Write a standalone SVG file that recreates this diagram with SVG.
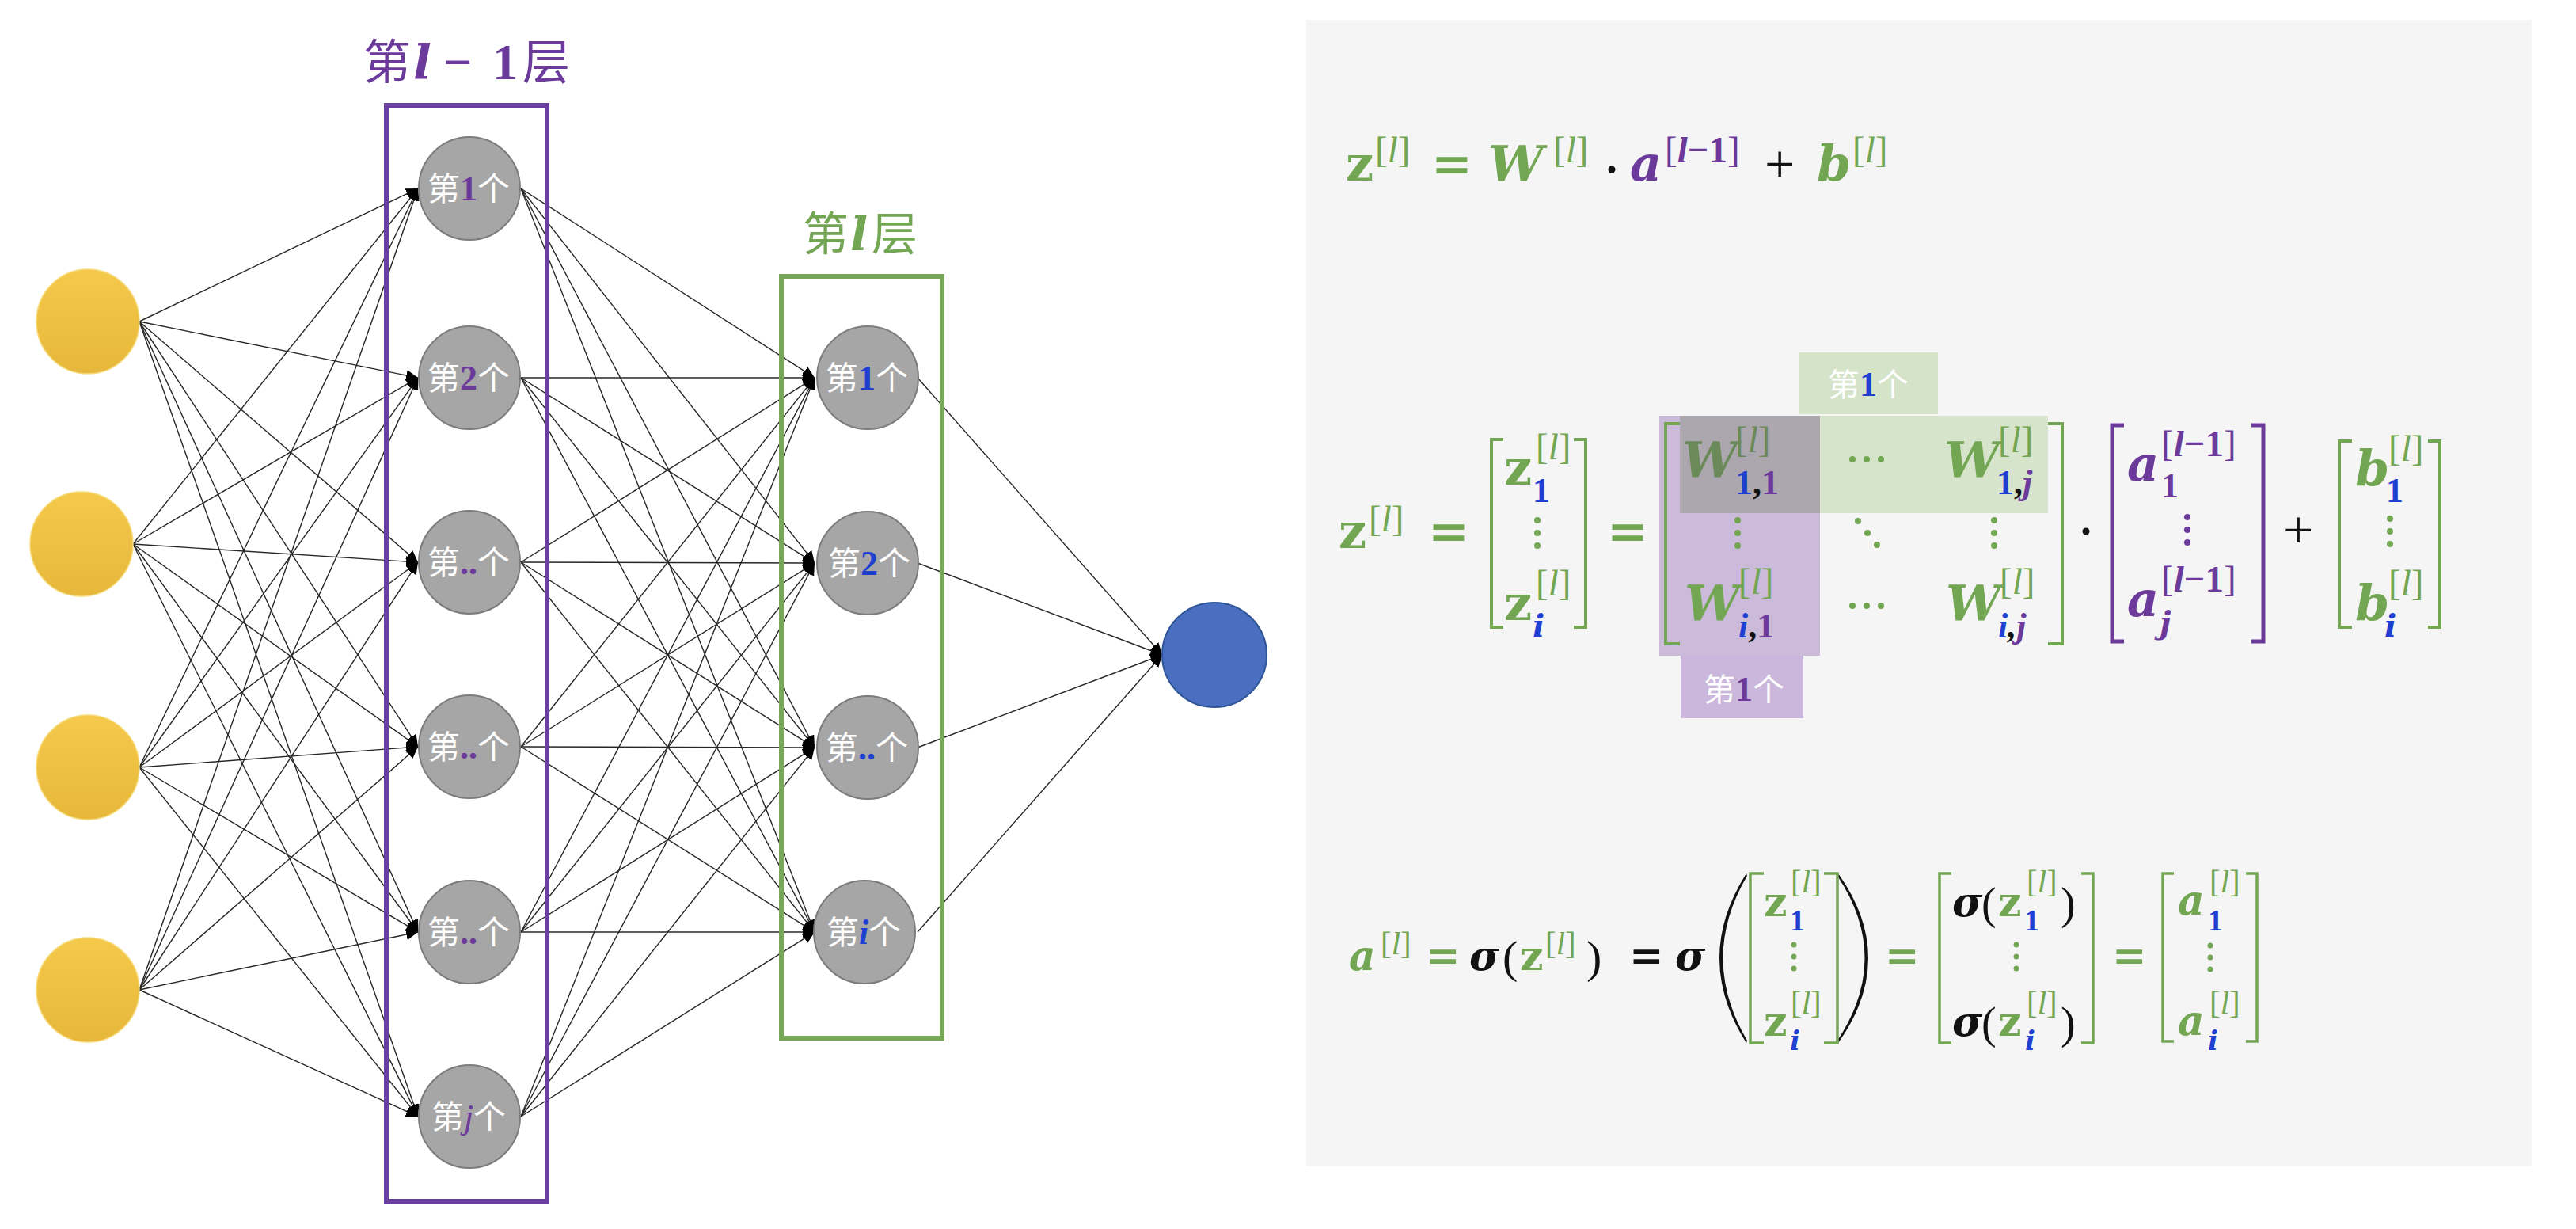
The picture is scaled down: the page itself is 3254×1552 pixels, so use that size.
<svg xmlns="http://www.w3.org/2000/svg" width="3254" height="1552" viewBox="0 0 3254 1552">
<style>
.cj{font-family:"Noto Sans CJK SC","Noto Sans",sans-serif}
.m{font-family:"DejaVu Serif","Liberation Serif",serif;font-weight:bold;font-style:italic}
.u{font-family:"DejaVu Serif","Liberation Serif",serif;font-weight:bold;font-style:normal}
.n{font-family:"Liberation Serif","DejaVu Serif",serif;font-weight:bold;font-style:normal}
.r{font-family:"Liberation Serif","DejaVu Serif",serif;font-weight:normal;font-style:normal}
.it{font-style:italic}
.bd{font-weight:bold}
.g{fill:#72a652}.p{fill:#6b3a9b}.b{fill:#1f3fd1}.k{fill:#111}.w{fill:#ffffff}
.s1{font-size:62px}.s2{font-size:47px}.s3{font-size:44px}.s4{font-size:40px}
.t1{font-size:52px}.t2{font-size:41px}.t3{font-size:38px}.t4{font-size:34px}
.yel{fill:url(#yg);stroke:#f7dc7c;stroke-width:1.5}
.gry{fill:#a6a6a6;stroke:#7c7c7c;stroke-width:2}
.lbl{font-size:41px;fill:#ffffff;text-anchor:middle}
.dg{font-family:"Liberation Serif",serif;font-weight:bold;font-size:44px}
.brg{fill:none;stroke:#72a652;stroke-width:4}
.brp{fill:none;stroke:#6b3a9b;stroke-width:5}
.dtg{fill:#72a652}.dtp{fill:#6b3a9b}
#conn line{stroke:#262626;stroke-width:1.4;marker-end:url(#ah)}
</style>
<defs>
<linearGradient id="yg" x1="0" y1="0" x2="0" y2="1">
<stop offset="0" stop-color="#f5c94b"/>
<stop offset="1" stop-color="#e6b73a"/>
</linearGradient>
<marker id="ah" markerUnits="userSpaceOnUse" markerWidth="16" markerHeight="14" refX="15" refY="7" orient="auto">
<path d="M0,0 L15,7 L0,14 z" fill="#000"/>
</marker>
</defs>
<rect width="3254" height="1552" fill="#ffffff"/>
<rect id="panel" x="1650" y="25" width="1548" height="1448" fill="#f5f5f5"/>

<g id="conn">
<line x1="176" y1="406" x2="528" y2="238"/><line x1="168" y1="687" x2="528" y2="238"/><line x1="176" y1="969" x2="528" y2="238"/><line x1="176" y1="1250" x2="528" y2="238"/>
<line x1="176" y1="406" x2="528" y2="477"/><line x1="168" y1="687" x2="528" y2="477"/><line x1="176" y1="969" x2="528" y2="477"/><line x1="176" y1="1250" x2="528" y2="477"/>
<line x1="176" y1="406" x2="528" y2="710"/><line x1="168" y1="687" x2="528" y2="710"/><line x1="176" y1="969" x2="528" y2="710"/><line x1="176" y1="1250" x2="528" y2="710"/>
<line x1="176" y1="406" x2="528" y2="943"/><line x1="168" y1="687" x2="528" y2="943"/><line x1="176" y1="969" x2="528" y2="943"/><line x1="176" y1="1250" x2="528" y2="943"/>
<line x1="176" y1="406" x2="528" y2="1177"/><line x1="168" y1="687" x2="528" y2="1177"/><line x1="176" y1="969" x2="528" y2="1177"/><line x1="176" y1="1250" x2="528" y2="1177"/>
<line x1="176" y1="406" x2="528" y2="1410"/><line x1="168" y1="687" x2="528" y2="1410"/><line x1="176" y1="969" x2="528" y2="1410"/><line x1="176" y1="1250" x2="528" y2="1410"/>
<line x1="658" y1="238" x2="1029" y2="477"/><line x1="658" y1="477" x2="1029" y2="477"/><line x1="658" y1="710" x2="1029" y2="477"/><line x1="658" y1="943" x2="1029" y2="477"/><line x1="658" y1="1177" x2="1029" y2="477"/><line x1="658" y1="1410" x2="1029" y2="477"/>
<line x1="658" y1="238" x2="1029" y2="711"/><line x1="658" y1="477" x2="1029" y2="711"/><line x1="658" y1="710" x2="1029" y2="711"/><line x1="658" y1="943" x2="1029" y2="711"/><line x1="658" y1="1177" x2="1029" y2="711"/><line x1="658" y1="1410" x2="1029" y2="711"/>
<line x1="658" y1="238" x2="1029" y2="944"/><line x1="658" y1="477" x2="1029" y2="944"/><line x1="658" y1="710" x2="1029" y2="944"/><line x1="658" y1="943" x2="1029" y2="944"/><line x1="658" y1="1177" x2="1029" y2="944"/><line x1="658" y1="1410" x2="1029" y2="944"/>
<line x1="658" y1="238" x2="1029" y2="1177"/><line x1="658" y1="477" x2="1029" y2="1177"/><line x1="658" y1="710" x2="1029" y2="1177"/><line x1="658" y1="943" x2="1029" y2="1177"/><line x1="658" y1="1177" x2="1029" y2="1177"/><line x1="658" y1="1410" x2="1029" y2="1177"/>
<line x1="1159" y1="477" x2="1468" y2="827"/><line x1="1159" y1="711" x2="1468" y2="827"/><line x1="1159" y1="944" x2="1468" y2="827"/><line x1="1159" y1="1177" x2="1468" y2="827"/>
</g>

<g id="layer-l-1">
<rect x="488" y="133" width="203" height="1384" fill="none" stroke="#6b3fa0" stroke-width="6"/>
<text y="100" class="p" style="font-size:60px"><tspan x="459" class="cj">第</tspan><tspan x="522" class="m" style="font-size:60px">l</tspan><tspan x="560" class="n" style="font-size:64px">−</tspan><tspan x="622" class="n" style="font-size:64px">1</tspan><tspan x="660" class="cj">层</tspan></text>
</g>
<g id="layer-l">
<rect x="987" y="349" width="203" height="962" fill="none" stroke="#77a85a" stroke-width="6"/>
<text y="316" class="g" style="font-size:58px"><tspan x="1014" class="cj">第</tspan><tspan x="1074" class="m" style="font-size:58px">l</tspan><tspan x="1101" class="cj">层</tspan></text>
</g>

<g id="in1"><ellipse cx="111" cy="406" rx="65" ry="66" class="yel"/></g>
<g id="in2"><ellipse cx="103" cy="687" rx="65" ry="66" class="yel"/></g>
<g id="in3"><ellipse cx="111" cy="969" rx="65" ry="66" class="yel"/></g>
<g id="in4"><ellipse cx="111" cy="1250" rx="65" ry="66" class="yel"/></g>

<g id="h1"><ellipse cx="593" cy="238" rx="64" ry="65" class="gry"/><text x="592" y="253" class="cj lbl">第<tspan class="dg p">1</tspan>个</text></g>
<g id="h2"><ellipse cx="593" cy="477" rx="64" ry="65" class="gry"/><text x="592" y="492" class="cj lbl">第<tspan class="dg p">2</tspan>个</text></g>
<g id="h3"><ellipse cx="593" cy="710" rx="64" ry="65" class="gry"/><text x="592" y="725" class="cj lbl">第<tspan class="dg p">..</tspan>个</text></g>
<g id="h4"><ellipse cx="593" cy="943" rx="64" ry="65" class="gry"/><text x="592" y="958" class="cj lbl">第<tspan class="dg p">..</tspan>个</text></g>
<g id="h5"><ellipse cx="593" cy="1177" rx="64" ry="65" class="gry"/><text x="592" y="1192" class="cj lbl">第<tspan class="dg p">..</tspan>个</text></g>
<g id="h6"><ellipse cx="593" cy="1410" rx="64" ry="65" class="gry"/><text x="592" y="1425" class="cj lbl">第<tspan class="dg p" style="font-style:italic;font-weight:normal">j</tspan>个</text></g>

<g id="l1"><ellipse cx="1096" cy="477" rx="64" ry="65" class="gry"/><text x="1095" y="492" class="cj lbl">第<tspan class="dg b">1</tspan>个</text></g>
<g id="l2"><ellipse cx="1096" cy="711" rx="64" ry="65" class="gry"/><text x="1098" y="726" class="cj lbl">第<tspan class="dg b">2</tspan>个</text></g>
<g id="l3"><ellipse cx="1096" cy="944" rx="64" ry="65" class="gry"/><text x="1095" y="959" class="cj lbl">第<tspan class="dg b">..</tspan>个</text></g>
<g id="l4"><ellipse cx="1092" cy="1177" rx="64" ry="65" class="gry"/><text x="1091" y="1192" class="cj lbl">第<tspan class="dg b" style="font-style:italic">i</tspan>个</text></g>

<g id="out"><ellipse cx="1534" cy="827" rx="66" ry="66" fill="#4a6fc0" stroke="#2f5597" stroke-width="2"/></g>

<g id="eq1">
<text x="1700" y="228" class="u g s1">z</text>
<text x="1737" y="205" class="r g s2">[<tspan class="it">l</tspan>]</text>
<text x="1808" y="228" class="u g s1">=</text>
<text x="1880" y="228" class="m g s1">W</text>
<text x="1962" y="205" class="r g s2">[<tspan class="it">l</tspan>]</text>
<circle cx="2036" cy="214" r="4.5" fill="#111"/>
<text x="2059" y="228" class="m p s1">a</text>
<text x="2103" y="205" class="r p s2">[<tspan class="it bd">l</tspan><tspan class="bd">−1</tspan>]</text>
<text x="2229" y="230" class="r k" style="font-size:68px">+</text>
<text x="2295" y="228" class="m g s1">b</text>
<text x="2340" y="205" class="r g s2">[<tspan class="it">l</tspan>]</text>
</g>

<g id="eq2">
<rect x="2096" y="525" width="203" height="303" fill="#cbbad9"/>
<rect x="2123" y="828" width="155" height="79" fill="#cbb7db"/>
<rect x="2122" y="525" width="465" height="123" fill="#d6e4cb"/>
<rect x="2272" y="445" width="176" height="78" fill="#d5e4c9"/>
<rect x="2122" y="525" width="177" height="123" fill="#aca7af"/>
<text x="2360" y="500" class="cj w" style="font-size:40px" text-anchor="middle">第<tspan class="dg b">1</tspan>个</text>
<text x="2203" y="885" class="cj w" style="font-size:40px" text-anchor="middle">第<tspan class="dg p">1</tspan>个</text>

<text x="1691" y="692" class="u g s1">z</text>
<text x="1729" y="671" class="r g s2">[<tspan class="it">l</tspan>]</text>
<text x="1804" y="692" class="u g s1">=</text>
<path class="brg" d="M1899,555 H1884 V792 H1899 M1988,555 H2003 V792 H1988"/>
<text x="1900" y="612" class="u g s1">z</text>
<text x="1936" y="634" class="n b s3">1</text>
<text x="1940" y="580" class="r g s2">[<tspan class="it">l</tspan>]</text>
<circle cx="1942" cy="657" r="4" class="dtg"/><circle cx="1942" cy="673" r="4" class="dtg"/><circle cx="1942" cy="689" r="4" class="dtg"/>
<text x="1900" y="783" class="u g s1">z</text>
<text x="1936" y="804" class="m b s4">i</text>
<text x="1940" y="752" class="r g s2">[<tspan class="it">l</tspan>]</text>
<text x="2030" y="692" class="u g s1">=</text>
<path class="brg" d="M2122,535 H2104 V813 H2122 M2587,535 H2605 V813 H2587"/>
<text x="2125" y="602" class="m s1" fill="#6b8a5a">W</text>
<text x="2192" y="571" class="r s2" fill="#6b8a5a">[<tspan class="it">l</tspan>]</text>
<text x="2192" y="624" class="n s3"><tspan class="b">1</tspan><tspan class="k">,</tspan><tspan class="p">1</tspan></text>
<circle cx="2340" cy="580" r="4" class="dtg"/><circle cx="2358" cy="580" r="4" class="dtg"/><circle cx="2376" cy="580" r="4" class="dtg"/>
<text x="2456" y="602" class="m g s1">W</text>
<text x="2524" y="571" class="r g s2">[<tspan class="it">l</tspan>]</text>
<text x="2522" y="624" class="n s3"><tspan class="b">1</tspan><tspan class="k">,</tspan><tspan class="p it">j</tspan></text>
<circle cx="2195" cy="657" r="4" class="dtg"/><circle cx="2195" cy="673" r="4" class="dtg"/><circle cx="2195" cy="689" r="4" class="dtg"/>
<circle cx="2347" cy="658" r="4" class="dtg"/><circle cx="2359" cy="673" r="4" class="dtg"/><circle cx="2371" cy="688" r="4" class="dtg"/>
<circle cx="2519" cy="657" r="4" class="dtg"/><circle cx="2519" cy="673" r="4" class="dtg"/><circle cx="2519" cy="689" r="4" class="dtg"/>
<text x="2128" y="783" class="m g s1">W</text>
<text x="2196" y="750" class="r g s2">[<tspan class="it">l</tspan>]</text>
<text x="2196" y="805" class="n s3"><tspan class="b it">i</tspan><tspan class="k">,</tspan><tspan class="p">1</tspan></text>
<circle cx="2340" cy="765" r="4" class="dtg"/><circle cx="2358" cy="765" r="4" class="dtg"/><circle cx="2376" cy="765" r="4" class="dtg"/>
<text x="2458" y="783" class="m g s1">W</text>
<text x="2526" y="750" class="r g s2">[<tspan class="it">l</tspan>]</text>
<text x="2524" y="805" class="n s3 it"><tspan class="b">i</tspan><tspan class="k">,</tspan><tspan class="p">j</tspan></text>
<circle cx="2635" cy="671" r="4.5" fill="#111"/>
<path class="brp" d="M2683,537 H2668 V810 H2683 M2844,537 H2859 V810 H2844"/>
<text x="2687" y="607" class="m p s1">a</text>
<text x="2730" y="628" class="n p s3">1</text>
<text x="2730" y="576" class="r p s2">[<tspan class="it bd">l</tspan><tspan class="bd">−1</tspan>]</text>
<circle cx="2763" cy="653" r="4" class="dtp"/><circle cx="2763" cy="669" r="4" class="dtp"/><circle cx="2763" cy="685" r="4" class="dtp"/>
<text x="2687" y="778" class="m p s1">a</text>
<text x="2728" y="800" class="m p s4">j</text>
<text x="2730" y="747" class="r p s2">[<tspan class="it bd">l</tspan><tspan class="bd">−1</tspan>]</text>
<text x="2884" y="692" class="r k" style="font-size:68px">+</text>
<path class="brg" d="M2971,557 H2955 V792 H2971 M3067,557 H3082 V792 H3067"/>
<text x="2975" y="613" class="m g s1">b</text>
<text x="3014" y="634" class="n b s3">1</text>
<text x="3017" y="582" class="r g s2">[<tspan class="it">l</tspan>]</text>
<circle cx="3019" cy="655" r="4" class="dtg"/><circle cx="3019" cy="671" r="4" class="dtg"/><circle cx="3019" cy="687" r="4" class="dtg"/>
<text x="2975" y="783" class="m g s1">b</text>
<text x="3012" y="804" class="m b s4">i</text>
<text x="3017" y="752" class="r g s2">[<tspan class="it">l</tspan>]</text>
</g>

<g id="eq3">
<text x="1704" y="1225" class="m g t1">a</text>
<text x="1744" y="1205" class="r g t2">[<tspan class="it">l</tspan>]</text>
<text x="1801" y="1225" class="u g t1">=</text>
<text x="1856" y="1225" class="m k t1">σ</text>
<text x="1898" y="1228" class="r k" style="font-size:58px">(</text>
<text x="1920" y="1225" class="u g t1">z</text>
<text x="1952" y="1205" class="r g t2">[<tspan class="it">l</tspan>]</text>
<text x="2004" y="1228" class="r k" style="font-size:58px">)</text>
<text x="2058" y="1225" class="u k t1">=</text>
<text x="2116" y="1225" class="m k t1">σ</text>
<path d="M2206,1103 Q2138,1210 2206,1317 L2207,1314 Q2146,1210 2207,1106 Z" fill="#111"/>
<path d="M2322,1103 Q2398,1210 2322,1317 L2321,1314 Q2390,1210 2321,1106 Z" fill="#111"/>
<path class="brg" style="stroke-width:3.5" d="M2228,1103 H2211 V1317 H2228 M2304,1103 H2321 V1317 H2304"/>
<text x="2228" y="1157" class="u g t1">z</text>
<text x="2261" y="1175" class="n b t3">1</text>
<text x="2262" y="1127" class="r g t2">[<tspan class="it">l</tspan>]</text>
<circle cx="2266" cy="1193" r="3.5" class="dtg"/><circle cx="2266" cy="1208" r="3.5" class="dtg"/><circle cx="2266" cy="1223" r="3.5" class="dtg"/>
<text x="2228" y="1308" class="u g t1">z</text>
<text x="2261" y="1326" class="m b t4">i</text>
<text x="2262" y="1280" class="r g t2">[<tspan class="it">l</tspan>]</text>
<text x="2381" y="1225" class="u g t1">=</text>
<path class="brg" style="stroke-width:3.5" d="M2465,1103 H2450 V1317 H2465 M2629,1103 H2644 V1317 H2629"/>
<text x="2466" y="1157" class="m k t1">σ</text>
<text x="2503" y="1160" class="r k" style="font-size:56px">(</text>
<text x="2524" y="1157" class="u g t1">z</text>
<text x="2557" y="1175" class="n b t3">1</text>
<text x="2560" y="1127" class="r g t2">[<tspan class="it">l</tspan>]</text>
<text x="2603" y="1160" class="r k" style="font-size:56px">)</text>
<circle cx="2547" cy="1193" r="3.5" class="dtg"/><circle cx="2547" cy="1208" r="3.5" class="dtg"/><circle cx="2547" cy="1223" r="3.5" class="dtg"/>
<text x="2466" y="1308" class="m k t1">σ</text>
<text x="2503" y="1311" class="r k" style="font-size:56px">(</text>
<text x="2524" y="1308" class="u g t1">z</text>
<text x="2558" y="1326" class="m b t4">i</text>
<text x="2560" y="1280" class="r g t2">[<tspan class="it">l</tspan>]</text>
<text x="2603" y="1311" class="r k" style="font-size:56px">)</text>
<text x="2668" y="1225" class="u g t1">=</text>
<path class="brg" style="stroke-width:3.5" d="M2746,1103 H2732 V1315 H2746 M2837,1103 H2851 V1315 H2837"/>
<text x="2751" y="1155" class="m g t1">a</text>
<text x="2789" y="1175" class="n b t3">1</text>
<text x="2791" y="1127" class="r g t2">[<tspan class="it">l</tspan>]</text>
<circle cx="2792" cy="1194" r="3.5" class="dtg"/><circle cx="2792" cy="1209" r="3.5" class="dtg"/><circle cx="2792" cy="1224" r="3.5" class="dtg"/>
<text x="2751" y="1307" class="m g t1">a</text>
<text x="2789" y="1326" class="m b t4">i</text>
<text x="2791" y="1280" class="r g t2">[<tspan class="it">l</tspan>]</text>
</g>
</svg>
